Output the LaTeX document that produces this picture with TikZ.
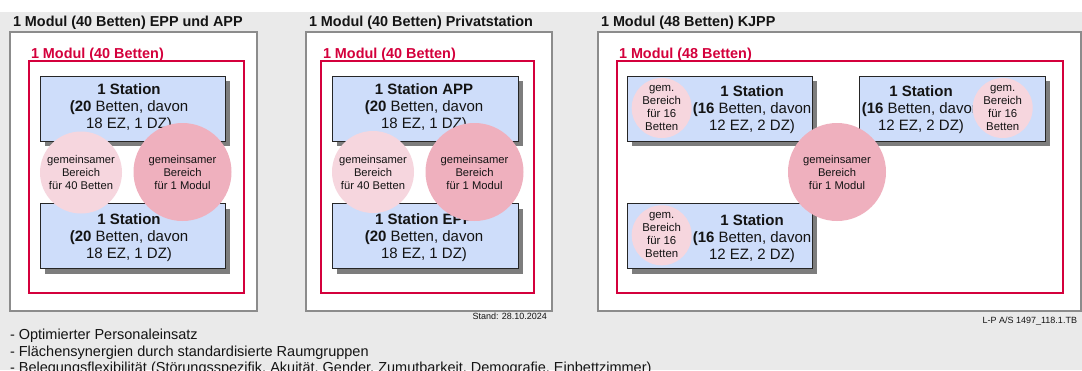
\documentclass[tikz,border=0pt]{standalone}
\usepackage{fontspec}
\setmainfont{Liberation Sans}
\usetikzlibrary{shadows}
\definecolor{bggray}{RGB}{234,234,234}
\definecolor{boxgray}{RGB}{140,140,140}
\definecolor{modred}{RGB}{212,0,60}
\definecolor{stblue}{RGB}{206,221,250}
\definecolor{shadowgray}{RGB}{125,125,125}
\definecolor{lightpink}{RGB}{246,214,222}
\definecolor{darkpink}{RGB}{239,176,190}
\definecolor{txt}{RGB}{20,20,20}
\begin{document}
\begin{tikzpicture}[x=1pt,y=-1pt,
  every node/.style={inner sep=0pt,outer sep=0pt,text=txt},
  outerbox/.style={draw=boxgray,line width=1.6pt,fill=white,anchor=north west},
  redbox/.style={draw=modred,line width=1.8pt,anchor=north west},
  station/.style={draw=black!85,line width=0.8pt,fill=stblue,
    minimum width=185pt,minimum height=65pt,
    general shadow={fill=shadowgray,shadow xshift=5pt,shadow yshift=-5pt}},
  sttext/.style={align=center,font=\fontsize{15}{17}\selectfont},
  title/.style={anchor=base west,font=\fontsize{14.4}{17}\selectfont\bfseries},
  redtitle/.style={title,text=modred},
  bigcircle/.style={circle,fill=darkpink,minimum size=98pt,align=center,
    font=\fontsize{11.2}{13}\selectfont},
  lightcircle/.style={circle,fill=lightpink,minimum size=82pt,align=center,
    font=\fontsize{11.2}{13}\selectfont},
  smallcircle/.style={circle,fill=lightpink,minimum size=60pt,align=center,
    font=\fontsize{11.4}{13}\selectfont},
  note/.style={font=\fontsize{9}{10}\selectfont},
  bullet/.style={anchor=base west,font=\fontsize{14.5}{17}\selectfont}
]
\useasboundingbox (0,0) rectangle (1082,370);
\fill[white] (0,0) rectangle (1082,370);
\fill[bggray] (0,12) rectangle (1082,370);

% ---------- Panel 1 ----------
\node[title] (t1) at (13,26) {1 Modul (40 Betten) EPP und APP};
\node[outerbox,minimum width=247pt,minimum height=279pt] (o1) at (10,32) {};
\node[redtitle] (r1l) at (31,58) {1 Modul (40 Betten)};
\node[redbox,minimum width=215pt,minimum height=232pt] (r1) at (29,61) {};
\node[station] (s1a) at (132.5,108.5) {};
\node[station] (s1b) at (132.5,236) {};
\node[sttext] (s1at) at (129,108) {\textbf{1 Station}\\\textbf{(20} Betten, davon\\18 EZ, 1 DZ)};
\node[sttext] (s1bt) at (129,238) {\textbf{1 Station}\\\textbf{(20} Betten, davon\\18 EZ, 1 DZ)};
\node[lightcircle] (c1a) at (81,172.5) {gemeinsamer\\Bereich\\für 40 Betten};
\node[bigcircle] (c1b) at (182.5,172) {gemeinsamer\\Bereich\\für 1 Modul};

% ---------- Panel 2 ----------
\node[title] (t2) at (309,26) {1 Modul (40 Betten) Privatstation};
\node[outerbox,minimum width=246pt,minimum height=279pt] (o2) at (306,32) {};
\node[redtitle] (r2l) at (323,58) {1 Modul (40 Betten)};
\node[redbox,minimum width=213pt,minimum height=232pt] (r2) at (321,61) {};
\node[station,minimum width=186pt] (s2a) at (425,108.5) {};
\node[station,minimum width=186pt] (s2b) at (425,236) {};
\node[sttext] (s2at) at (424,108) {\textbf{1 Station APP}\\\textbf{(20} Betten, davon\\18 EZ, 1 DZ)};
\node[sttext] (s2bt) at (424,238) {\textbf{1 Station EPP}\\\textbf{(20} Betten, davon\\18 EZ, 1 DZ)};
\node[lightcircle] (c2a) at (373,172) {gemeinsamer\\Bereich\\für 40 Betten};
\node[bigcircle] (c2b) at (474.5,172) {gemeinsamer\\Bereich\\für 1 Modul};
\node[note,anchor=base east] (stand) at (547,319.5) {Stand: 28.10.2024};

% ---------- Panel 3 ----------
\node[title] (t3) at (601,26) {1 Modul (48 Betten) KJPP};
\node[outerbox,minimum width=483pt,minimum height=279pt] (o3) at (598,32) {};
\node[redtitle] (r3l) at (619,58) {1 Modul (48 Betten)};
\node[redbox,minimum width=446pt,minimum height=232pt] (r3) at (617,61) {};
\node[station] (s3a) at (719.5,108.5) {};
\node[station,minimum width=186pt] (s3b) at (952,108.5) {};
\node[station] (s3c) at (719.5,236) {};
\node[sttext] (s3at) at (752,110) {\textbf{1 Station}\\\textbf{(16} Betten, davon\\12 EZ, 2 DZ)};
\node[sttext] (s3bt) at (921,110) {\textbf{1 Station}\\\textbf{(16} Betten, davon\\12 EZ, 2 DZ)};
\node[sttext] (s3ct) at (752,239) {\textbf{1 Station}\\\textbf{(16} Betten, davon\\12 EZ, 2 DZ)};
\node[smallcircle] (c3a) at (661.7,108) {gem.\\Bereich\\für 16\\Betten};
\node[smallcircle] (c3b) at (1002.7,108) {gem.\\Bereich\\für 16\\Betten};
\node[smallcircle] (c3c) at (661.7,235.3) {gem.\\Bereich\\für 16\\Betten};
\node[bigcircle] (c3d) at (837,172) {gemeinsamer\\Bereich\\für 1 Modul};
\node[note,anchor=base east] (lp) at (1077,323) {L-P A/S 1497\_118.1.TB};

% ---------- Bottom text ----------
\node[bullet] (b1) at (10,339.5) {- Optimierter Personaleinsatz};
\node[bullet] (b2) at (10,356) {- Flächensynergien durch standardisierte Raumgruppen};
\node[bullet] (b3) at (10,372.5) {- Belegungsflexibilität (Störungsspezifik, Akuität, Gender, Zumutbarkeit, Demografie, Einbettzimmer)};
\end{tikzpicture}
\end{document}
